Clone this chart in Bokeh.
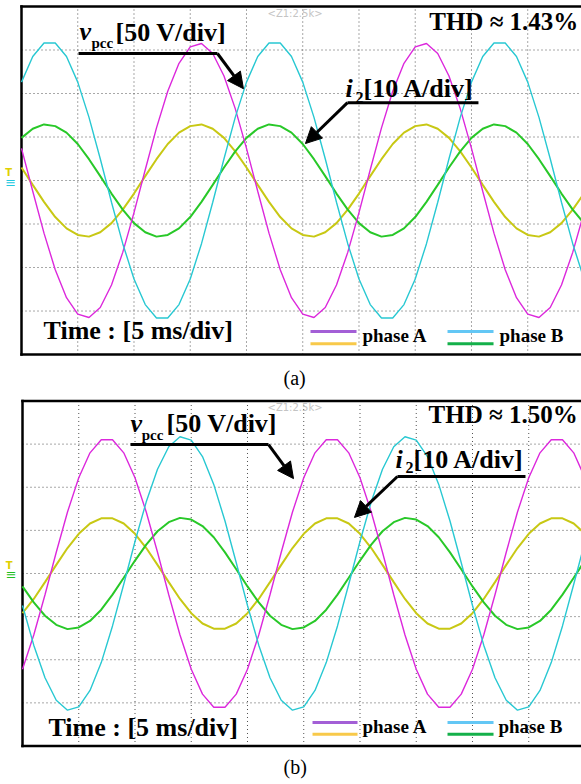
from bokeh.plotting import figure
from bokeh.layouts import column
from bokeh.models import Label, Arrow, NormalHead, Range1d
from bokeh.embed import file_html
from bokeh.resources import INLINE

# ---------------- data (read from the oscilloscope screens) ----------------
t_ms = [0, 1, 2, 3, 4, 5, 6, 7, 8, 9, 10, 11, 12, 13, 14, 15, 16, 17, 18, 19,
        20, 21, 22, 23, 24, 25, 26, 27, 28, 29, 30, 31, 32, 33, 34, 35, 36, 37, 38, 39,
        40, 41, 42, 43, 44, 45, 46, 47, 48, 49, 50]

# panel (a): voltages in V, currents in A
va_a = [36.9, -12.4, -60.5, -102.6, -134.7, -153.6, -157.5, -146.0, -120.1, -82.6,
        -36.9, 12.4, 60.5, 102.6, 134.7, 153.6, 157.5, 146.0, 120.1, 82.6,
        36.9, -12.4, -60.5, -102.6, -134.7, -153.6, -157.5, -146.0, -120.1, -82.6,
        -36.9, 12.4, 60.5, 102.6, 134.7, 153.6, 157.5, 146.0, 120.1, 82.6,
        36.9, -12.4, -60.5, -102.6, -134.7, -153.6, -157.5, -146.0, -120.1, -82.6, -36.9]
vb_a = [113.1, 142.6, 158.0, 158.0, 142.6, 113.1, 72.6, 25.0, -25.0, -72.6,
        -113.1, -142.6, -158.0, -158.0, -142.6, -113.1, -72.6, -25.0, 25.0, 72.6,
        113.1, 142.6, 158.0, 158.0, 142.6, 113.1, 72.6, 25.0, -25.0, -72.6,
        -113.1, -142.6, -158.0, -158.0, -142.6, -113.1, -72.6, -25.0, 25.0, 72.6,
        113.1, 142.6, 158.0, 158.0, 142.6, 113.1, 72.6, 25.0, -25.0, -72.6, -113.1]
ia_a = [3.0, -1.0, -4.9, -8.4, -11.0, -12.5, -12.9, -11.9, -9.8, -6.7,
        -3.0, 1.0, 4.9, 8.4, 11.0, 12.5, 12.9, 11.9, 9.8, 6.7,
        3.0, -1.0, -4.9, -8.4, -11.0, -12.5, -12.9, -11.9, -9.8, -6.7,
        -3.0, 1.0, 4.9, 8.4, 11.0, 12.5, 12.9, 11.9, 9.8, 6.7,
        3.0, -1.0, -4.9, -8.4, -11.0, -12.5, -12.9, -11.9, -9.8, -6.7, -3.0]
ib_a = [9.8, 11.9, 12.9, 12.5, 11.0, 8.4, 4.9, 1.0, -3.0, -6.7,
        -9.8, -11.9, -12.9, -12.5, -11.0, -8.4, -4.9, -1.0, 3.0, 6.7,
        9.8, 11.9, 12.9, 12.5, 11.0, 8.4, 4.9, 1.0, -3.0, -6.7,
        -9.8, -11.9, -12.9, -12.5, -11.0, -8.4, -4.9, -1.0, 3.0, 6.7,
        9.8, 11.9, 12.9, 12.5, 11.0, 8.4, 4.9, 1.0, -3.0, -6.7, -9.8]

# panel (b)
va_b = [-111.0, -71.3, -24.6, 24.6, 71.3, 111.0, 139.9, 155.1, 155.1, 139.9,
        111.0, 71.3, 24.6, -24.6, -71.3, -111.0, -139.9, -155.1, -155.1, -139.9,
        -111.0, -71.3, -24.6, 24.6, 71.3, 111.0, 139.9, 155.1, 155.1, 139.9,
        111.0, 71.3, 24.6, -24.6, -71.3, -111.0, -139.9, -155.1, -155.1, -139.9,
        -111.0, -71.3, -24.6, 24.6, 71.3, 111.0, 139.9, 155.1, 155.1, 139.9, 111.0]
vb_b = [-37.1, -83.1, -120.9, -146.9, -158.5, -154.6, -135.6, -103.3, -60.8, -12.5,
        37.1, 83.1, 120.9, 146.9, 158.5, 154.6, 135.6, 103.3, 60.8, 12.5,
        -37.1, -83.1, -120.9, -146.9, -158.5, -154.6, -135.6, -103.3, -60.8, -12.5,
        37.1, 83.1, 120.9, 146.9, 158.5, 154.6, 135.6, 103.3, 60.8, 12.5,
        -37.1, -83.1, -120.9, -146.9, -158.5, -154.6, -135.6, -103.3, -60.8, -12.5, 37.1]
ia_b = [-9.2, -5.9, -2.0, 2.0, 5.9, 9.2, 11.6, 12.8, 12.8, 11.6,
        9.2, 5.9, 2.0, -2.0, -5.9, -9.2, -11.6, -12.8, -12.8, -11.6,
        -9.2, -5.9, -2.0, 2.0, 5.9, 9.2, 11.6, 12.8, 12.8, 11.6,
        9.2, 5.9, 2.0, -2.0, -5.9, -9.2, -11.6, -12.8, -12.8, -11.6,
        -9.2, -5.9, -2.0, 2.0, 5.9, 9.2, 11.6, 12.8, 12.8, 11.6, 9.2]
ib_b = [-3.0, -6.7, -9.8, -11.9, -12.9, -12.5, -11.0, -8.4, -4.9, -1.0,
        3.0, 6.7, 9.8, 11.9, 12.9, 12.5, 11.0, 8.4, 4.9, 1.0,
        -3.0, -6.7, -9.8, -11.9, -12.9, -12.5, -11.0, -8.4, -4.9, -1.0,
        3.0, 6.7, 9.8, 11.9, 12.9, 12.5, 11.0, 8.4, 4.9, 1.0,
        -3.0, -6.7, -9.8, -11.9, -12.9, -12.5, -11.0, -8.4, -4.9, -1.0, 3.0]

volt_per_div = 50.0
amp_per_div = 10.0
time_divs = [5, 10, 15, 20, 25, 30, 35, 40, 45]
level_divs = [-3, -2, -1, 0, 1, 2, 3]
thd_a = "THD \u2248 1.43%"
thd_b = "THD \u2248 1.50%"

# ---------------- styling ----------------
FONT = "Liberation Serif"
C_VA, C_VB, C_IA, C_IB = "#dc28dc", "#28c8d2", "#c8c814", "#28c828"
L_A1, L_A2, L_B1, L_B2 = "#a35fd6", "#f8c94a", "#63c7f5", "#14b04a"


def panel(va, vb, ia, ib, thd, pos):
    xr = pos["xr"]
    yr = pos["yr"]
    ppd = pos["ppd"]
    p = figure(width=581, height=pos["h"], x_range=Range1d(*xr), y_range=Range1d(*yr),
               output_backend="svg", toolbar_location=None, x_axis_type=None, y_axis_type=None,
               min_border=0, outline_line_color=None,
               background_fill_color="white", border_fill_color="white")

    def lab(x, y, text, size=26, style="bold", color="black", font=FONT, align="left"):
        # small upward nudge so the rendered baseline lands where intended
        p.add_layout(Label(x=x, y=y + 0.35 * size / ppd, text=text, text_font=font,
                           text_font_style=style, text_font_size="%dpx" % size,
                           text_color=color, text_baseline="alphabetic", text_align=align))

    xe = xr[1]
    # dotted screen graticule
    p.segment(x0=time_divs, y0=[-4] * len(time_divs), x1=time_divs, y1=[4] * len(time_divs),
              color="#505050", line_width=1, line_dash="1 3")
    p.segment(x0=[0] * len(level_divs), y0=level_divs, x1=[xe] * len(level_divs), y1=level_divs,
              color="#505050", line_width=1, line_dash="1 3")
    # screen border (left, top, bottom)
    p.segment(x0=[0, 0, 0], y0=[-4, 4, -4], x1=[0, xe, xe], y1=[4, 4, -4],
              color="black", line_width=2.5, line_cap="square")

    p.line(t_ms, [v / amp_per_div for v in ia], color=C_IA, line_width=2)
    p.line(t_ms, [v / amp_per_div for v in ib], color=C_IB, line_width=2)
    p.line(t_ms, [v / volt_per_div for v in va], color=C_VA, line_width=1.4)
    p.line(t_ms, [v / volt_per_div for v in vb], color=C_VB, line_width=1.4)

    # v_pcc label
    lab(pos["v"][0], pos["v"][1], "v", style="bold italic")
    lab(pos["pcc"][0], pos["pcc"][1], "pcc", size=15)
    lab(pos["vdiv"][0], pos["vdiv"][1], "[50 V/div]")
    h = pos["vline"]
    p.segment(x0=[h[0]], y0=[h[2]], x1=[h[1]], y1=[h[2]], color="black", line_width=3)
    p.add_layout(Arrow(x_start=h[1], y_start=h[2], x_end=pos["vtip"][0], y_end=pos["vtip"][1],
                       line_width=3, line_color="black",
                       end=NormalHead(size=16, fill_color="black", line_color="black")))
    # i2 label
    lab(pos["i"][0], pos["i"][1], "i", style="bold italic")
    lab(pos["two"][0], pos["two"][1], "2", size=16)
    lab(pos["idiv"][0], pos["idiv"][1], "[10 A/div]")
    h = pos["iline"]
    p.segment(x0=[h[0]], y0=[h[2]], x1=[h[1]], y1=[h[2]], color="black", line_width=3)
    p.add_layout(Arrow(x_start=h[0], y_start=h[2], x_end=pos["itip"][0], y_end=pos["itip"][1],
                       line_width=3, line_color="black",
                       end=NormalHead(size=16, fill_color="black", line_color="black")))

    lab(pos["thd"][0], pos["thd"][1], thd, size=25, align="right")
    lab(pos["z"][0], pos["z"][1], "<Z1:2.5k>", size=10, style="normal",
        color="#c4c4c4", font="DejaVu Sans")
    lab(pos["time"][0], pos["time"][1], "Time : [5 ms/div]")

    # legend
    lg = pos["leg"]
    p.segment(x0=[lg[0]], y0=[lg[4]], x1=[lg[1]], y1=[lg[4]], color=L_A1, line_width=3)
    p.segment(x0=[lg[0]], y0=[lg[5]], x1=[lg[1]], y1=[lg[5]], color=L_A2, line_width=3)
    p.segment(x0=[lg[2]], y0=[lg[4]], x1=[lg[3]], y1=[lg[4]], color=L_B1, line_width=3)
    p.segment(x0=[lg[2]], y0=[lg[5]], x1=[lg[3]], y1=[lg[5]], color=L_B2, line_width=3)
    lab(pos["pa"][0], pos["pa"][1], "phase A", size=19)
    lab(pos["pb"][0], pos["pb"][1], "phase B", size=19)

    # ground / trigger markers left of the screen
    g = pos["gnd"]
    lab(g[0], g[1] + 0.1, "T", size=10, color="#e0d000", font="DejaVu Sans")
    lab(g[0], g[1] - 0.14, "\u2261", size=13, style="normal", color=g[2], font="DejaVu Sans")

    lab(pos["cap"][0], pos["cap"][1], pos["capt"], size=20, style="normal")
    return p


pos_a = dict(h=398, ppd=43.5, xr=(-1.867, 49.78), yr=(-5.011, 4.138),
             v=(5.16, 3.22), pcc=(6.22, 3.03), vdiv=(8.36, 3.20),
             vline=(5.07, 17.42, 2.92), vtip=(19.73, 2.11), thd=(49.5, 3.45), z=(21.87, 3.75),
             i=(28.8, 1.91), two=(29.69, 1.77), idiv=(30.4, 1.91), iline=(28.98, 40.62, 1.79),
             itip=(25.24, 0.85), time=(1.96, -3.66),
             leg=(25.69, 29.78, 37.87, 41.96, -3.47, -3.75), pa=(30.31, -3.72), pb=(42.49, -3.72),
             gnd=(-1.45, 0.0, "#20c8e0"), cap=(23.29, -4.71), capt="(a)")
pos_b = dict(h=386, ppd=43.125, xr=(-1.956, 49.69), yr=(-4.893, 4.058),
             v=(9.6, 3.27), pcc=(10.6, 3.08), vdiv=(12.8, 3.27),
             vline=(9.6, 21.87, 2.99), vtip=(24.09, 2.20), thd=(49.35, 3.48), z=(21.78, 3.76),
             i=(33.16, 2.43), two=(34.04, 2.32), idiv=(34.76, 2.43), iline=(33.33, 44.71, 2.25),
             itip=(29.51, 1.30), time=(2.31, -3.78),
             leg=(25.78, 29.78, 37.78, 41.87, -3.455, -3.73), pa=(30.22, -3.71), pb=(42.31, -3.71),
             gnd=(-1.5, 0.0, "#20c020"), cap=(23.2, -4.66), capt="(b)")

fig_a = panel(va_a, vb_a, ia_a, ib_a, thd_a, pos_a)
fig_b = panel(va_b, vb_b, ia_b, ib_b, thd_b, pos_b)

layout = column(fig_a, fig_b, spacing=0)
open("out.html", "w").write(file_html(layout, INLINE))
